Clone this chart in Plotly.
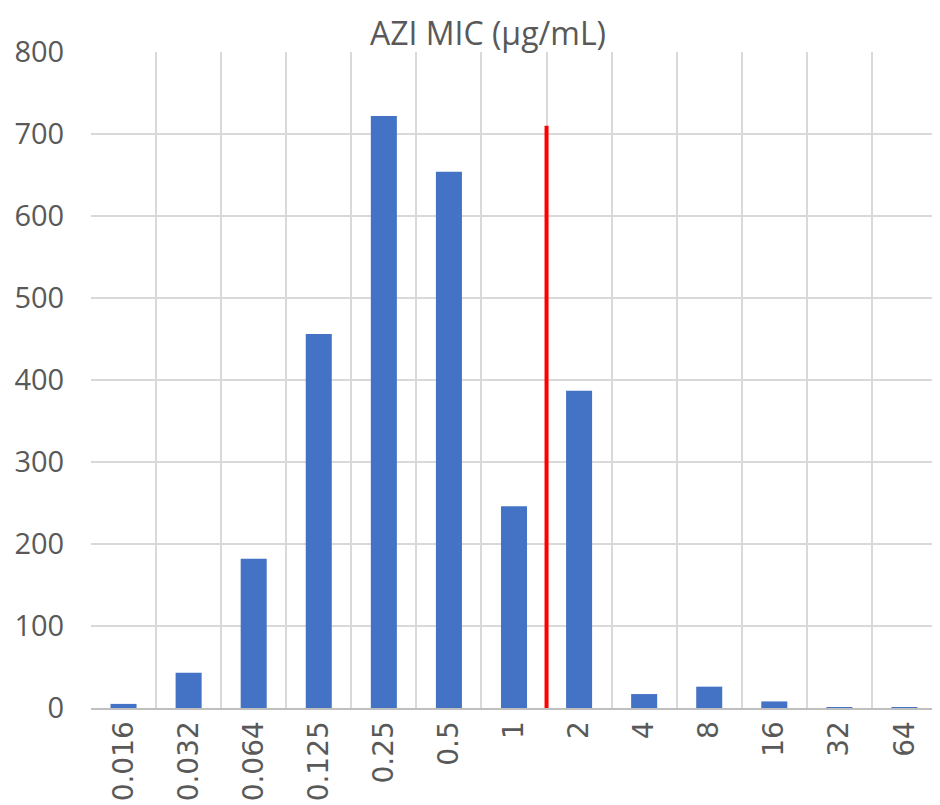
import plotly.graph_objects as go

categories = ["0.016", "0.032", "0.064", "0.125", "0.25", "0.5", "1", "2", "4", "8", "16", "32", "64"]
counts = [5, 43, 182, 456, 722, 654, 246, 387, 17, 26, 8, 1, 1]
breakpoint_position = 6.5   # between "1" and "2"
breakpoint_height = 710
y_ticks = [0, 100, 200, 300, 400, 500, 600, 700, 800]

fig = go.Figure()
fig.add_trace(go.Bar(
    x=categories, y=counts, width=0.4,
    marker=dict(color="#4472C4", line=dict(width=0)),
))
fig.add_shape(type="line", xref="x", yref="y",
              x0=breakpoint_position, x1=breakpoint_position,
              y0=0, y1=breakpoint_height,
              line=dict(color="#FF0000", width=4))

fig.update_layout(
    width=932, height=797,
    margin=dict(l=83, r=3, t=44, b=97),
    paper_bgcolor="white", plot_bgcolor="white",
    showlegend=False,
    font=dict(family="Open Sans, Liberation Sans, sans-serif", color="#595959"),
    title=dict(text="AZI MIC (μg/mL)", x=0.515, xanchor="center", y=0.968, yanchor="middle",
               font=dict(size=32, color="#595959")),
    bargap=0.6,
)
fig.update_xaxes(
    type="category", tickson="boundaries", showgrid=True, gridcolor="#D9D9D9", gridwidth=2,
    tickangle=-90, tickfont=dict(size=28, color="#595959", family="DejaVu Sans, sans-serif"),
    showline=True, linecolor="#BFBFBF", linewidth=2, ticks="outside", ticklen=13,
    tickcolor="rgba(0,0,0,0)", range=[-0.5, 12.5], automargin=False,
)
fig.update_yaxes(
    range=[0, 800], tickvals=y_ticks, showgrid=True, gridcolor="#D9D9D9", gridwidth=2,
    tickfont=dict(size=29, color="#595959"), zeroline=False,
    ticks="outside", ticklen=20, tickcolor="rgba(0,0,0,0)", automargin=False,
)
fig.write_html("out.html")
